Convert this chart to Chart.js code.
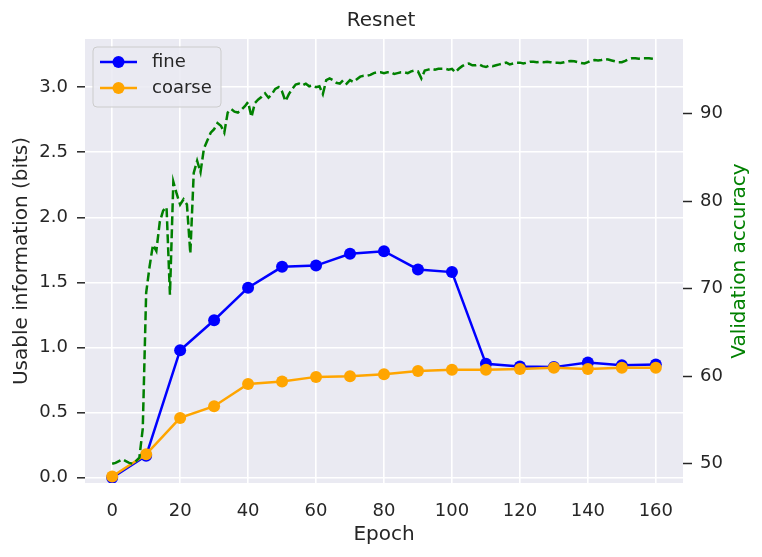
<!DOCTYPE html>
<html>
<head>
<meta charset="utf-8">
<script src="https://cdn.jsdelivr.net/npm/chart.js@4/dist/chart.umd.min.js"></script>
<style>
  html, body { margin: 0; padding: 0; background: #ffffff; }
  #wrap { width: 762px; height: 557px; }
</style>
</head>
<body>
<div id="wrap"><canvas id="resnetChart" width="762" height="557"></canvas></div>
<script>
// epochs where the usable information was measured
const infoEpochs = [0, 10, 20, 30, 40, 50, 60, 70, 80, 90, 100, 110, 120, 130, 140, 150, 160];
const fineInfo = [0.0, 0.17, 0.98, 1.21, 1.46, 1.62, 1.63, 1.72, 1.74, 1.60, 1.58, 0.875, 0.855, 0.85, 0.885, 0.865, 0.87];
const coarseInfo = [0.01, 0.18, 0.46, 0.55, 0.72, 0.74, 0.775, 0.78, 0.795, 0.82, 0.83, 0.83, 0.835, 0.845, 0.835, 0.845, 0.845];

// validation accuracy, one value per epoch (0..160)
const valAccuracy = [
    50.0, 50.1, 50.3, 50.5, 50.3, 50.1, 50.0, 50.3, 50.7, 54.0,
    69.5, 72.5, 75.0, 74.3, 77.6, 78.9, 79.3, 69.3, 82.2, 80.8,
    79.6, 80.2, 79.6, 74.0, 83.2, 84.6, 83.3, 86.0, 86.9, 87.8,
    88.2, 88.9, 88.6, 87.8, 90.1, 90.5, 90.2, 90.1, 90.4, 90.8,
    91.3, 89.6, 91.2, 91.6, 91.9, 92.3, 91.8, 92.2, 92.8, 93.0,
    92.5, 91.4, 92.2, 92.8, 93.3, 93.4, 93.2, 93.4, 93.1, 93.2,
    93.0, 93.1, 92.2, 93.8, 94.0, 93.8, 93.5, 93.4, 93.8, 93.4,
    93.8, 93.6, 93.9, 94.2, 94.3, 94.3, 94.4, 94.6, 94.7, 94.7,
    94.6, 94.7, 94.7, 94.5, 94.6, 94.7, 94.7, 94.6, 94.8, 94.9,
    94.8, 94.0, 94.9, 95.0, 95.1, 95.0, 95.1, 95.1, 95.1, 95.0,
    95.1, 94.7, 95.1, 95.4, 95.6, 95.7, 95.5, 95.5, 95.6, 95.4,
    95.3, 95.5, 95.4, 95.5, 95.6, 95.7, 95.8, 95.6, 95.7, 95.8,
    95.8, 95.7, 95.8, 95.9, 95.9, 95.85, 95.9, 95.85, 95.9, 95.85,
    95.8, 95.8, 95.75, 95.85, 95.95, 96.0, 95.95, 95.85, 95.75, 95.7,
    95.85, 96.05, 96.1, 96.05, 96.1, 96.2, 96.15, 96.05, 95.95, 95.85,
    95.85, 96.0, 96.2, 96.3, 96.3, 96.25, 96.3, 96.3, 96.3, 96.25,
    96.2
];

const leftTicks = [0, 0.5, 1.0, 1.5, 2.0, 2.5, 3.0];
const rightTicks = [50, 60, 70, 80, 90];
const xTicks = [0, 20, 40, 60, 80, 100, 120, 140, 160];

const FONT = "'DejaVu Sans', 'Liberation Sans', sans-serif";
const TEXT = '#262626';

function toPoints(xs, ys) {
    return ys.map((y, i) => ({ x: xs[i], y: y }));
}

// seaborn-like grey plot background
const plotBackground = {
    id: 'plotBackground',
    beforeDraw(chart) {
        const { ctx, chartArea } = chart;
        ctx.save();
        ctx.fillStyle = '#EAEAF2';
        ctx.fillRect(chartArea.left, chartArea.top, chartArea.right - chartArea.left, chartArea.bottom - chartArea.top);
        ctx.restore();
    }
};

// matplotlib style legend box (line + marker) in the upper left corner
const boxLegend = {
    id: 'boxLegend',
    afterDraw(chart) {
        const ctx = chart.ctx;
        const area = chart.chartArea;
        const x0 = area.left + 8, y0 = area.top + 8;
        const entries = chart.data.datasets.filter(d => d.showInLegend);
        // keep the order fine, coarse
        entries.sort((a, b) => a.legendIndex - b.legendIndex);
        ctx.save();
        ctx.beginPath();
        ctx.roundRect(x0, y0, 128, 60, 4);
        ctx.fillStyle = 'rgba(234,234,242,0.85)';
        ctx.fill();
        ctx.strokeStyle = '#CCCCCC';
        ctx.lineWidth = 1;
        ctx.stroke();
        entries.forEach((d, i) => {
            const y = y0 + 15 + i * 26;
            ctx.strokeStyle = d.borderColor;
            ctx.lineWidth = 2.5;
            ctx.beginPath();
            ctx.moveTo(x0 + 7, y);
            ctx.lineTo(x0 + 44, y);
            ctx.stroke();
            ctx.fillStyle = d.borderColor;
            ctx.beginPath();
            ctx.arc(x0 + 25.5, y, 6, 0, Math.PI * 2);
            ctx.fill();
            ctx.fillStyle = TEXT;
            ctx.font = '18px ' + FONT;
            ctx.textBaseline = 'middle';
            ctx.textAlign = 'left';
            ctx.fillText(d.label, x0 + 59, y);
        });
        ctx.restore();
    }
};

// right axis title reads bottom to top like matplotlib
const rightTitle = {
    id: 'rightTitle',
    afterDraw(chart) {
        const ctx = chart.ctx;
        const area = chart.chartArea;
        ctx.save();
        ctx.translate(740, (area.top + area.bottom) / 2);
        ctx.rotate(-Math.PI / 2);
        ctx.fillStyle = '#008000';
        ctx.font = '20px ' + FONT;
        ctx.textAlign = 'center';
        ctx.textBaseline = 'middle';
        ctx.fillText('Validation accuracy', 0, 0);
        ctx.restore();
    }
};

const ctx = document.getElementById('resnetChart').getContext('2d');
const resnetChart = new Chart(ctx, {
    type: 'line',
    data: {
        datasets: [
            {
                label: 'Validation accuracy',
                data: toPoints(valAccuracy.map((v, i) => i), valAccuracy),
                yAxisID: 'y2',
                borderColor: '#008000',
                borderWidth: 2.5,
                borderDash: [9, 4],
                pointRadius: 0,
                fill: false,
                tension: 0,
                showInLegend: false
            },
            {
                label: 'coarse',
                data: toPoints(infoEpochs, coarseInfo),
                yAxisID: 'y',
                borderColor: '#FFA500',
                backgroundColor: '#FFA500',
                borderWidth: 2.5,
                pointRadius: 6,
                pointBorderWidth: 0,
                pointBackgroundColor: '#FFA500',
                tension: 0,
                showInLegend: true,
                legendIndex: 1
            },
            {
                label: 'fine',
                data: toPoints(infoEpochs, fineInfo),
                yAxisID: 'y',
                borderColor: '#0000FF',
                backgroundColor: '#0000FF',
                borderWidth: 2.5,
                pointRadius: 6,
                pointBorderWidth: 0,
                pointBackgroundColor: '#0000FF',
                tension: 0,
                showInLegend: true,
                legendIndex: 0
            }
        ]
    },
    options: {
        responsive: false,
        animation: false,
        layout: { padding: 0 },
        plugins: {
            legend: { display: false },
            tooltip: { enabled: false },
            title: {
                display: true,
                text: 'Resnet',
                color: TEXT,
                font: { family: FONT, size: 20, weight: 'normal' },
                padding: { top: 9, bottom: 6 }
            }
        },
        scales: {
            x: {
                type: 'linear',
                min: -8,
                max: 168,
                afterFit: function(scale) { scale.height = 74; },
                afterBuildTicks: function(scale) { scale.ticks = xTicks.map(v => ({ value: v })); },
                border: { display: false },
                grid: { color: '#FFFFFF', lineWidth: 1.6, drawTicks: false },
                ticks: {
                    color: TEXT,
                    font: { family: FONT, size: 18 },
                    padding: 18,
                    callback: v => String(v)
                },
                title: {
                    display: true,
                    text: 'Epoch',
                    color: TEXT,
                    font: { family: FONT, size: 20 },
                    padding: { top: 0, bottom: 10 }
                }
            },
            y: {
                position: 'left',
                min: -0.04,
                max: 3.37,
                afterFit: function(scale) { scale.width = 85; },
                afterBuildTicks: function(scale) { scale.ticks = leftTicks.map(v => ({ value: v })); },
                border: { display: false },
                grid: { color: '#FFFFFF', lineWidth: 1.6, drawTicks: true, tickLength: 8, tickColor: TEXT, tickWidth: 1.5 },
                ticks: {
                    color: TEXT,
                    font: { family: FONT, size: 18 },
                    padding: 9,
                    callback: v => v.toFixed(1)
                },
                title: {
                    display: true,
                    text: 'Usable information (bits)',
                    color: TEXT,
                    font: { family: FONT, size: 20 },
                    padding: { top: 10, bottom: 0 }
                }
            },
            y2: {
                position: 'right',
                min: 47.8,
                max: 98.5,
                afterFit: function(scale) { scale.width = 79; },
                afterBuildTicks: function(scale) { scale.ticks = rightTicks.map(v => ({ value: v })); },
                border: { display: false },
                grid: { drawOnChartArea: false, drawTicks: true, tickLength: 9, tickColor: TEXT, tickWidth: 1.5 },
                ticks: {
                    color: TEXT,
                    font: { family: FONT, size: 18 },
                    padding: 8,
                    callback: v => String(v)
                }
            }
        }
    },
    plugins: [plotBackground, boxLegend, rightTitle]
});
</script>
</body>
</html>
